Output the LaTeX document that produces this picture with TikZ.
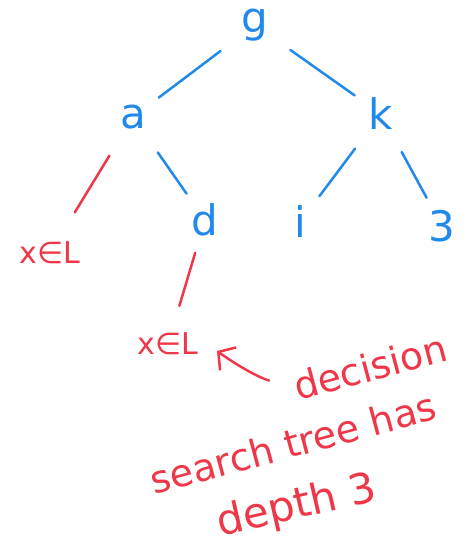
\documentclass[tikz,border=0pt]{standalone}
\usepackage{fontspec}
\setmainfont{DejaVu Sans}
\usetikzlibrary{arrows.meta}
\definecolor{penblue}{RGB}{33,137,235}
\definecolor{penred}{RGB}{238,55,72}

\begin{document}
\begin{tikzpicture}[x=1pt,y=-1pt,
  key/.style={circle,minimum size=60pt,inner sep=0pt,text=penblue,font=\fontsize{42}{42}\selectfont},
  note/.style={text=penred,inner sep=2pt,font=\fontsize{30}{30}\selectfont},
  remark/.style={text=penred,inner sep=0pt,font=\fontsize{38}{38}\selectfont},
  blueline/.style={draw=penblue,line width=2.5pt,line cap=round,shorten <=13pt,shorten >=2pt},
  redline/.style={draw=penred,line width=2.5pt,line cap=round}]
\useasboundingbox (0,0) rectangle (467,550);
% keys of the search tree
\node (g) [key] at (255,25) {g};
\node (a) [key] at (133,117) {a};
\node (k) [key] at (381,114) {k};
\node (d) [key] at (205,220) {d};
\node (i) [key] at (300,222) {i};
\node (s) [key] at (442,226) {3};
% leaves
\node (xl1) [note] at (50,253) {x∈L};
\node (xl2) [note] at (168,344) {x∈L};
% remark
\node (dec) [remark,rotate=15] at (370,367) {decision};
\node (sth) [remark,rotate=15] at (293,443) {search tree has};
\node (dep) [remark,rotate=13,font=\fontsize{42}{42}\selectfont] at (297,507) {depth 3};
\draw [blueline] (g) -- (a) ;
\draw [blueline] (g) -- (k) ;
\draw [blueline] (a) -- (d) ;
\draw [blueline] (k) -- (i) ;
\draw [blueline] (k) -- (s) ;
\draw [redline,shorten <=15pt,shorten >=32pt] (a) -- (xl1) ;
\draw [redline,shorten <=4pt,shorten >=26pt] (d) -- (xl2) ;
\coordinate (aim) at (217,351) ;
\draw [redline,shorten <=26pt,-{Straight Barb[length=12pt,width=28pt]}] (dec.west) to [bend left=10] (aim) ;
\end{tikzpicture}
\end{document}
